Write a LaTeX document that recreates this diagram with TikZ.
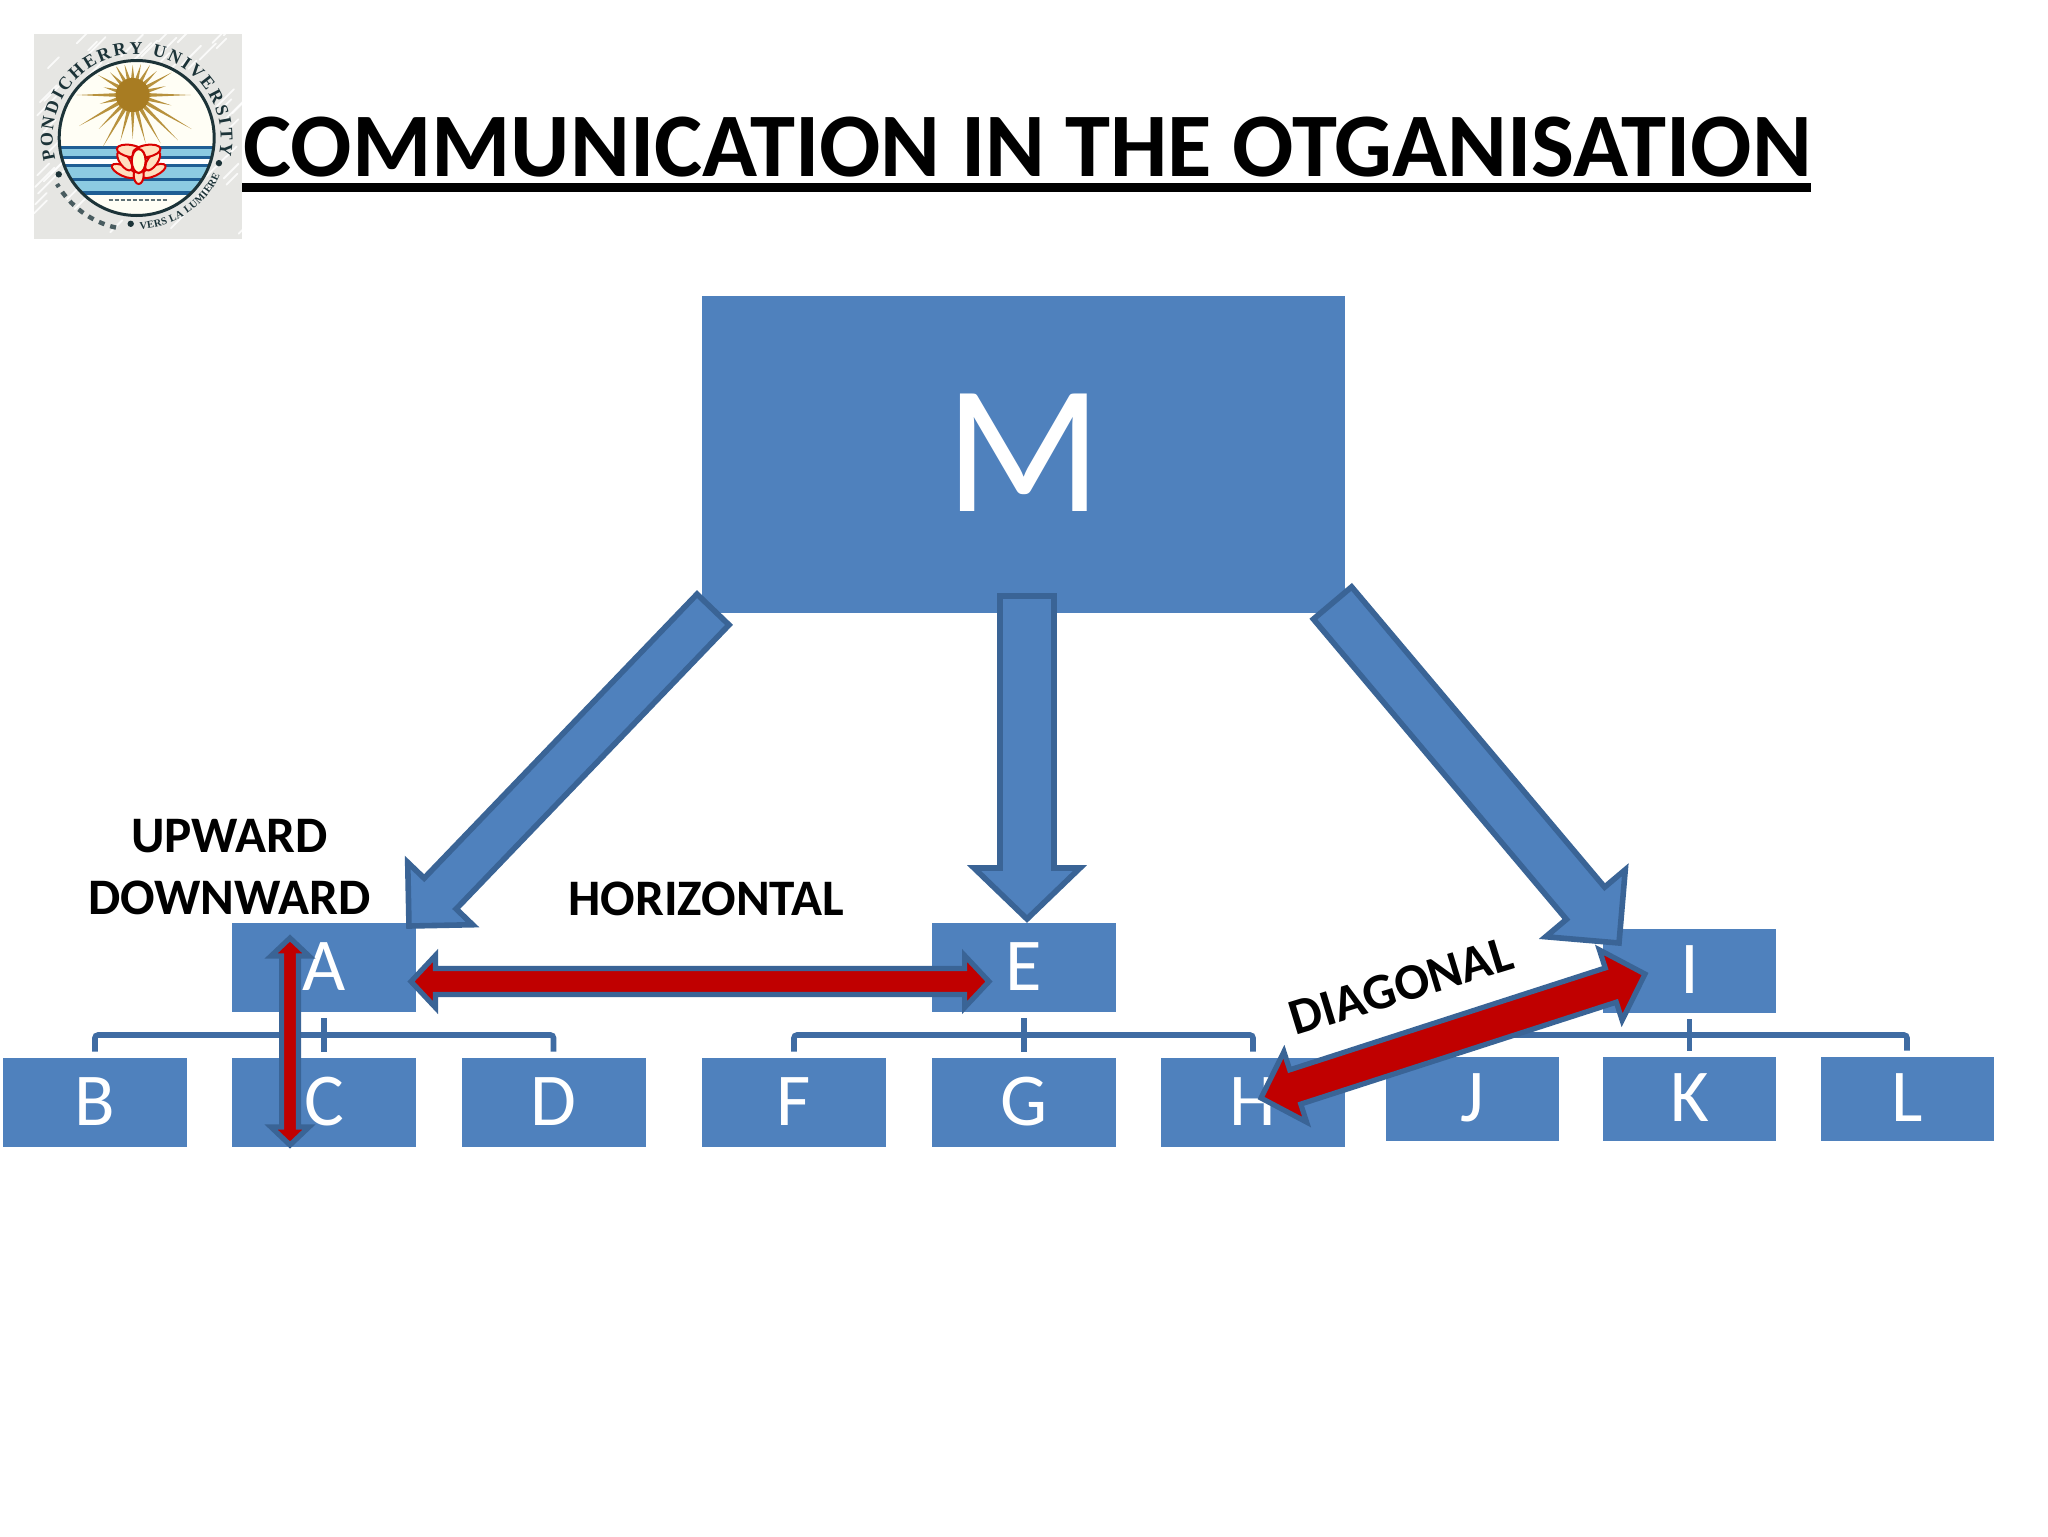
\documentclass[tikz,border=0pt]{standalone}
\usepackage{fontspec}
\setmainfont{Carlito}
\newfontfamily\logofont{Liberation Serif}
\usetikzlibrary{calc,decorations.text}
\definecolor{boxblue}{HTML}{4F81BD}
\definecolor{edgeblue}{HTML}{3A6496}
\definecolor{connblue}{HTML}{3F6CA3}
\definecolor{arrowred}{HTML}{C00000}
\definecolor{sunbrown}{HTML}{B8923E}
\definecolor{suncore}{HTML}{A87C22}
\definecolor{ringdark}{HTML}{1C3338}
\definecolor{waterlight}{HTML}{8CCBE2}
\definecolor{waterdark}{HTML}{1F5E94}
\definecolor{logopaper}{HTML}{E6E6E3}
\tikzset{
  boxbase/.style={fill=boxblue,inner sep=0pt,text=white,text height=24pt,text depth=1.5pt,
    font=\fontsize{37.3}{40}\selectfont},
  lowbox/.style={boxbase,minimum width=92pt,minimum height=44.5pt},
  rightbox/.style={boxbase,minimum width=86.5pt,minimum height=42pt},
  conn/.style={draw=connblue,line width=2.8pt,rounded corners=1.5pt},
  bluearrow/.style={draw=edgeblue,fill=boxblue,line width=2.8pt},
  redarrow/.style={draw=edgeblue,fill=arrowred,line width=2.6pt},
  lab/.style={font=\bfseries\fontsize{25.6}{28}\selectfont,text=black,inner sep=0pt},
}
\newcommand\blockarrow[6]{%
  \coordinate (ba) at ($(#3)!#6!(#2)$);
  \draw[#1] ($(#2)!#4!-90:(#3)$) -- ($(ba)!#4!90:(#2)$) -- ($(ba)!#5!90:(#2)$) -- (#3)
    -- ($(ba)!#5!-90:(#2)$) -- ($(ba)!#4!-90:(#2)$) -- ($(#2)!#4!90:(#3)$) -- cycle;
}
\newcommand\doublearrow[6]{%
  \coordinate (bp) at ($(#2)!#6!(#3)$);
  \coordinate (bq) at ($(#3)!#6!(#2)$);
  \draw[#1] (#2) -- ($(bp)!#5!90:(#3)$) -- ($(bp)!#4!90:(#3)$) -- ($(bq)!#4!-90:(#2)$)
    -- ($(bq)!#5!-90:(#2)$) -- (#3) -- ($(bq)!#5!90:(#2)$) -- ($(bq)!#4!90:(#2)$)
    -- ($(bp)!#4!-90:(#3)$) -- ($(bp)!#5!-90:(#3)$) -- cycle;
}
\begin{document}
\begin{tikzpicture}[x=0.5pt,y=-0.5pt]
\useasboundingbox (0,0) rectangle (2048,1536);
\fill[white] (0,0) rectangle (2048,1536);

% ---- logo
\fill[logopaper] (34,34) rectangle (242,239);
\begin{scope}
  \clip (34,34) rectangle (242,239);
  \pgfmathsetseed{11}
  \foreach \i in {1,...,90}{
    \pgfmathsetmacro\xa{34+208*rnd}
    \pgfmathsetmacro\ya{34+205*rnd}
    \pgfmathsetmacro\dd{8+14*rnd}
    \draw[white,line width=0.9pt,opacity=0.8,line cap=round] (\xa,\ya) -- ++(\dd,-\dd);
  }
\end{scope}
\begin{scope}[shift={(136.7,138)},x=0.5pt,y=0.5pt]
  \fill[white!96!yellow] (0,0) circle[radius=77.5];
  \begin{scope}
    \clip (0,0) circle[radius=77];
    \fill[waterlight] (-90,-8) rectangle (90,-21);
    \fill[white] (-90,-21) rectangle (90,-28);
    \fill[waterlight] (-90,-28) rectangle (90,-40);
    \fill[waterlight] (-90,-42) rectangle (90,-54);
    \foreach \yy/\th in {-9/3,-19.5/3,-27.5/2.5,-41/3,-55/3.4}
      \fill[waterdark] (-90,\yy+\th*0.5) rectangle (90,\yy-\th*0.5);
  \end{scope}
  \begin{scope}
    \clip (0,0) circle[radius=74];
    \clip (-90,-8) rectangle (90,90);
    \foreach \a/\l in {0/58,15/34,30/45,45/34,60/35,75/32,90/30,105/32,120/35,135/32,150/40,165/30,
                       180/56,195/34,210/62,225/48,240/60,255/48,270/44,285/50,300/56,315/64,330/68,345/40}{
      \fill[sunbrown] ($(-4,43)+(\a-8:14)$) -- ($(-4,43)+(\a:\l)$) -- ($(-4,43)+(\a+8:14)$) -- cycle;
    }
    \fill[suncore] (-4,43) circle[radius=17];
  \end{scope}
  \draw[ringdark,line width=1.5pt] (0,0) circle[radius=77.5];
  % lotus
  \begin{scope}[shift={(2,-25)}]
    \foreach \r/\dx/\dy/\ra/\rb in {-25/-15/-8/13/5,25/15/-8/13/5,-55/-14/2/11/5,55/14/2/11/5,-10/-8/12/14/6,10/8/12/14/6,90/0/-12/9/5}{
      \draw[fill=orange!25!white,draw=red!85!black,line width=1pt,rotate around={\r:(\dx,\dy)}]
        (\dx,\dy) ellipse[x radius=\ra,y radius=\rb];
    }
    \draw[fill=white!85!yellow,draw=red!85!black,line width=1.1pt] (0,2) ellipse[x radius=7,y radius=12];
  \end{scope}
  \draw[ringdark!70,line width=0.8pt,dash pattern=on 2pt off 1pt] (-28,-62) -- (32,-62);
  % lettering
  \path[decorate,decoration={text along path,text align=fit to path,
      text={|\logofont\bfseries\fontsize{9}{9}\selectfont\color{ringdark}|PONDICHERRY UNIVERSITY}}]
    (195:84) arc[start angle=195,end angle=-12,radius=84];
  \path[decorate,decoration={text along path,text align=fit to path,
      text={|\logofont\bfseries\fontsize{5.2}{6}\selectfont\color{ringdark}|VERS LA LUMIERE}}]
    (-88:91) arc[start angle=-88,end angle=-24,radius=91];
  \foreach \a in {205,-17,-94}
    \fill[ringdark] (\a:86) circle[radius=3.2];
  \draw[ringdark!80,line width=2.2pt,dash pattern=on 3pt off 3pt] (-103:92) arc[start angle=-103,end angle=-150,radius=92];
\end{scope}

% ---- title
\node[anchor=base west,inner sep=0pt,font=\bfseries\fontsize{45.4}{48}\selectfont] (title) at (243,176)
  {COMMUNICATION IN THE OTGANISATION};
\fill[black] (242,183) rectangle (1811,192);

% ---- boxes
\node[boxbase,minimum width=321.5pt,minimum height=158.5pt,text height=59pt,text depth=2pt,
      font=\fontsize{91.6}{96}\selectfont] (M) at (1023.5,454.5) {M};
\node[lowbox] (A) at (324,967.5) {A};
\node[lowbox] (B) at (95,1102.5) {B};
\node[lowbox] (C) at (324,1102.5) {C};
\node[lowbox] (D) at (553.5,1102.5) {D};
\node[lowbox] (E) at (1024,967.5) {E};
\node[lowbox] (F) at (794,1102.5) {F};
\node[lowbox] (G) at (1024,1102.5) {G};
\node[lowbox] (H) at (1253,1102.5) {H};
\node[rightbox] (I) at (1689.5,971) {I};
\node[rightbox] (J) at (1472,1099) {J};
\node[rightbox] (K) at (1689.5,1099) {K};
\node[rightbox] (L) at (1907,1099) {L};

% ---- tree connectors
\coordinate (busA) at (324,1035);
\coordinate (busE) at (1024,1035);
\coordinate (busI) at (1689.5,1035);
\draw[conn] ([yshift=-3pt]A.south) -- ([yshift=3pt]C.north);
\draw[conn] ([yshift=3pt]B.north) |- (busA) -| ([yshift=3pt]D.north);
\draw[conn] ([yshift=-3pt]E.south) -- ([yshift=3pt]G.north);
\draw[conn] ([yshift=3pt]F.north) |- (busE) -| ([yshift=3pt]H.north);
\draw[conn] ([yshift=-3pt]I.south) -- ([yshift=3pt]K.north);
\draw[conn] ([yshift=3pt]J.north) |- (busI) -| ([yshift=3pt]L.north);

% ---- blue block arrows
\coordinate (mA) at (713,609.5);
\coordinate (tA) at (409,926);
\coordinate (mE) at (1027,596);
\coordinate (tE) at (1027,919);
\coordinate (mI) at (1332.5,603);
\coordinate (tI) at (1619,943);
\blockarrow{bluearrow}{mA}{tA}{11.1pt}{22.5pt}{22.5pt}
\blockarrow{bluearrow}{mE}{tE}{13.5pt}{26.5pt}{25.5pt}
\blockarrow{bluearrow}{mI}{tI}{12.5pt}{26pt}{26pt}

% ---- red double arrows
\coordinate (hL) at (411,981.5);
\coordinate (hR) at (989,981.5);
\coordinate (vT) at (290,938);
\coordinate (vB) at (290,1145);
\coordinate (dH) at (1261,1098);
\coordinate (dI) at (1645,974);
\doublearrow{redarrow}{hL}{hR}{6.5pt}{13pt}{12.2pt}
\doublearrow{redarrow}{vT}{vB}{4.2pt}{9.5pt}{9pt}
\doublearrow{redarrow}{dH}{dI}{9pt}{18.5pt}{18pt}

% ---- labels
\node[lab] (up) at (229.5,836.5) {UPWARD};
\node[lab] (down) at (229.5,898) {DOWNWARD};
\node[lab] (hor) at (706,898.5) {HORIZONTAL};
\node[lab,rotate=17] (diag) at (1401,986) {DIAGONAL};
\end{tikzpicture}
\end{document}
